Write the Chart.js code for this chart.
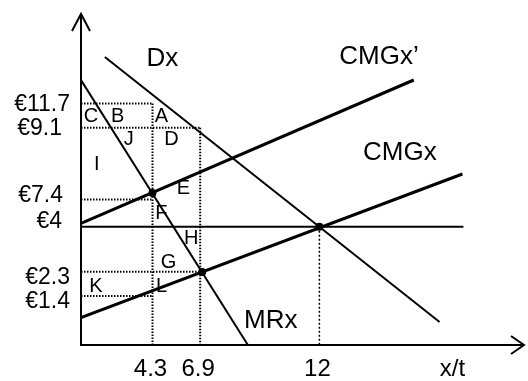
<!DOCTYPE html>
<html>
<head>
<meta charset="utf-8">
<script src="https://cdn.jsdelivr.net/npm/chart.js@4.4.1/dist/chart.umd.min.js"></script>
<style>
  body { margin: 0; background: #fff; }
  #wrap { width: 528px; height: 381px; }
</style>
</head>
<body>
<div id="wrap"><canvas id="chart" width="528" height="381"></canvas></div>
<script>
// diagram units (schematic, the picture's axes are not to scale)
const xMax = 44.6, yMax = 33.1;

// quantity ticks on x axis
const qTicks = [7.2, 12.0, 24.0];
const qLabels = ['4.3', '6.9', '12'];

// price ticks on y axis
const pTicks = [24.15, 21.73, 14.55, 11.83, 7.33, 4.9];
const pLabels = ['€11.7', '€9.1', '€7.4', '€4', '€2.3', '€1.4'];

// curves
const demand = [{x: 2.4, y: 28.8}, {x: 36.1, y: 2.3}];
const marginalRev = [{x: 0, y: 26.5}, {x: 16.8, y: 0}];
const marginalCost = [{x: 0, y: 2.75}, {x: 38.4, y: 17.1}];
const marginalCost2 = [{x: 0, y: 12.17}, {x: 33.5, y: 26.5}];
const priceLine = [{x: 0, y: 11.83}, {x: 38.5, y: 11.83}];
const equilibria = [{x: 7.2, y: 15.2}, {x: 12.2, y: 7.3}, {x: 24.0, y: 11.83}];

// dotted guides: [price tick index, quantity tick index]
const hGuides = [[0, 0], [1, 1], [2, 0], [4, 1], [5, 0]];
const vGuides = [[0, 0], [1, 1], [3, 2]];

// area letters
const areaNames = ['C', 'B', 'A', 'J', 'D', 'I', 'E', 'F', 'H', 'G', 'K', 'L'];
const areaX = [1.0, 3.7, 8.1, 4.8, 9.1, 1.6, 10.3, 8.1, 11.1, 8.8, 1.5, 8.1];
const areaY = [22.9, 22.9, 22.9, 20.55, 20.55, 18.05, 15.7, 13.15, 10.7, 8.25, 5.85, 5.85];

// curve names
const curveNames = ['Dx', 'CMGx\u2019', 'CMGx', 'MRx'];
const curveX = [8.2, 30.0, 32.1, 19.1];
const curveY = [28.6, 28.8, 19.2, 2.4];

const FONT = '"Liberation Sans", Arial, sans-serif';
// price labels sit a little off their guide lines in the original (px)
const pLabelShiftX = [-11, -19, -18, -19, -11, -11];
const pLabelShiftY = [1.5, 0.5, -4, -5.5, 5.5, 5.5];

function line(data, width, dash) {
    return {data: data, showLine: true, borderColor: '#000', borderWidth: width,
        borderDash: dash || [], pointRadius: 0, fill: false};
}

const datasets = [];
hGuides.forEach(g => {
    datasets.push(line([{x: 0, y: pTicks[g[0]]}, {x: qTicks[g[1]], y: pTicks[g[0]]}], 2, [1.5, 1.5]));
});
vGuides.forEach(g => {
    const w = g[1] === 2 ? 1.5 : 2;
    const d = g[1] === 2 ? [2, 2] : [1.5, 1.5];
    datasets.push(line([{x: qTicks[g[1]], y: pTicks[g[0]]}, {x: qTicks[g[1]], y: 0}], w, d));
});
datasets.push(line(priceLine, 2));
datasets.push(line(demand, 2));
datasets.push(line(marginalRev, 2));
datasets.push(line(marginalCost, 3));
datasets.push(line(marginalCost2, 3));
datasets.push({data: equilibria, showLine: false, pointRadius: 4, pointBackgroundColor: '#000', pointBorderWidth: 0});

// axes, arrows and all text
const diagramPlugin = {
    id: 'diagram',
    afterDatasetsDraw(chart) {
        const {ctx, chartArea: a, scales: {x, y}} = chart;
        ctx.save();
        ctx.strokeStyle = '#000';
        ctx.lineWidth = 2;
        ctx.beginPath();
        ctx.moveTo(a.left, a.top); ctx.lineTo(a.left, a.bottom); ctx.lineTo(a.right, a.bottom);
        // arrow heads
        ctx.moveTo(a.left - 9, a.top + 17); ctx.lineTo(a.left, a.top); ctx.lineTo(a.left + 9, a.top + 17);
        ctx.moveTo(a.right - 13, a.bottom - 9); ctx.lineTo(a.right, a.bottom); ctx.lineTo(a.right - 13, a.bottom + 9);
        ctx.stroke();

        ctx.fillStyle = '#000';
        ctx.textBaseline = 'middle';

        ctx.font = '23px ' + FONT;
        ctx.textAlign = 'right';
        pTicks.forEach((v, i) => ctx.fillText(pLabels[i], a.left + pLabelShiftX[i], y.getPixelForValue(v) + pLabelShiftY[i]));

        ctx.font = '24px ' + FONT;
        ctx.textAlign = 'center';
        qTicks.forEach((v, i) => ctx.fillText(qLabels[i], x.getPixelForValue(v) - 2, a.bottom + 24));
        ctx.fillText('x/t', x.getPixelForValue(37.4), a.bottom + 24);

        ctx.font = '20px ' + FONT;
        areaNames.forEach((n, i) => ctx.fillText(n, x.getPixelForValue(areaX[i]), y.getPixelForValue(areaY[i])));

        ctx.font = '26px ' + FONT;
        curveNames.forEach((n, i) => ctx.fillText(n, x.getPixelForValue(curveX[i]), y.getPixelForValue(curveY[i])));
        ctx.restore();
    }
};

new Chart(document.getElementById('chart'), {
    type: 'scatter',
    data: {datasets: datasets},
    options: {
        responsive: false,
        animation: false,
        layout: {padding: {left: 81, right: 1, top: 14, bottom: 36}},
        plugins: {legend: {display: false}, tooltip: {enabled: false}},
        scales: {
            x: {type: 'linear', display: false, min: 0, max: xMax},
            y: {type: 'linear', display: false, min: 0, max: yMax}
        }
    },
    plugins: [diagramPlugin]
});
</script>
</body>
</html>
